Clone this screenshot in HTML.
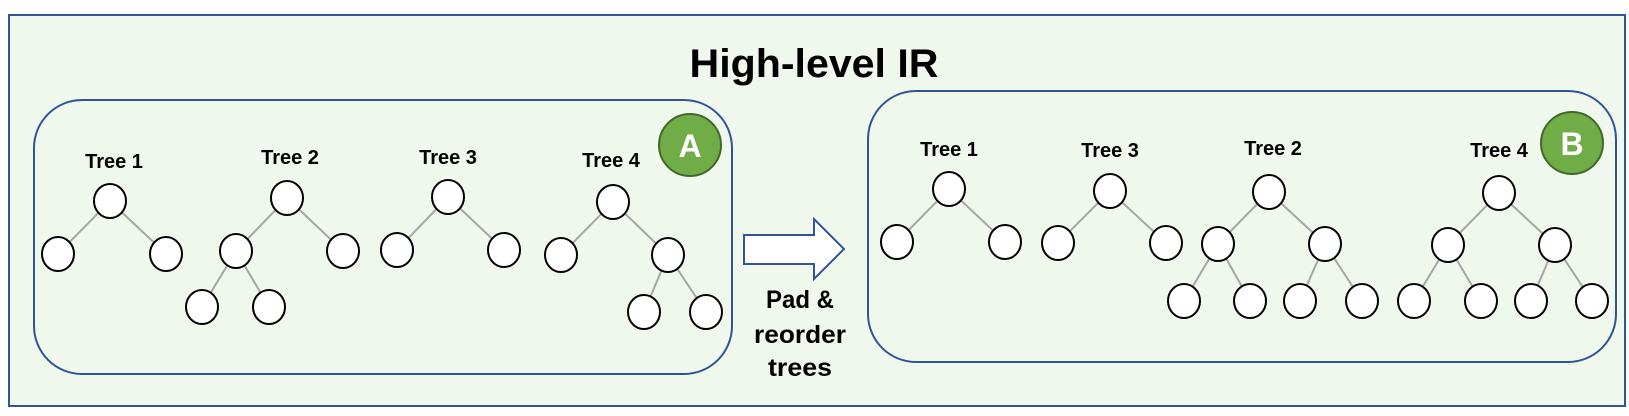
<!DOCTYPE html>
<html><head><meta charset="utf-8">
<style>
html,body{margin:0;padding:0;background:#fff;width:1629px;height:416px;overflow:hidden}
svg{display:block}
text{font-family:"Liberation Sans",sans-serif;font-weight:bold}
</style></head>
<body>
<svg id="d" width="1629" height="416" viewBox="0 0 1629 416" xmlns="http://www.w3.org/2000/svg">
  <rect x="9" y="15" width="1616" height="391" fill="#f0f7ec" stroke="#2f5597" stroke-width="2"/>
  <text x="814" y="77" font-size="40" text-anchor="middle" textLength="249" lengthAdjust="spacingAndGlyphs">High-level IR</text>
  <rect x="34" y="100" width="698" height="274" rx="48" fill="none" stroke="#2f5597" stroke-width="2"/>
  <rect x="868" y="91" width="748" height="271" rx="48" fill="none" stroke="#2f5597" stroke-width="2"/>
  <path d="M744,235 L814,235 L814,219 L844,249 L814,279 L814,264 L744,264 Z" fill="#ffffff" stroke="#2f5597" stroke-width="2"/>
  <g font-size="25" text-anchor="middle">
    <text x="800" y="308" textLength="68" lengthAdjust="spacingAndGlyphs">Pad &amp;</text>
    <text x="800" y="343" textLength="92" lengthAdjust="spacingAndGlyphs">reorder</text>
    <text x="800" y="376" textLength="64" lengthAdjust="spacingAndGlyphs">trees</text>
  </g>
  <g>
    <circle cx="690" cy="145" r="31" fill="#70ad47" stroke="#41682b" stroke-width="2"/>
    <text x="690" y="157" font-size="32" fill="#fff" text-anchor="middle">A</text>
  </g>
  <g>
    <circle cx="1572" cy="143" r="31" fill="#70ad47" stroke="#41682b" stroke-width="2"/>
    <text x="1572" y="155" font-size="32" fill="#fff" text-anchor="middle">B</text>
  </g>
  <g id="trees"></g>
</svg>
<script>
// Tree definitions: label, label position, nodes [x,y], edges [parent,child]
const treeLabels = ["Tree 1","Tree 2","Tree 3","Tree 4","Tree 1","Tree 3","Tree 2","Tree 4"];
const labelPos = [[114,161],[290,157],[448,157],[611,160],[949,149],[1110,150],[1273,148],[1499,150]];
const treeNodes = [
  [[110,201],[58,254],[166,254]],
  [[287,198],[236,251],[343,251],[202,307],[269,307]],
  [[448,197],[397,250],[504,250]],
  [[613,202],[561,255],[668,255],[644,312],[706,312]],
  [[949,189],[897,242],[1005,242]],
  [[1110,191],[1058,243],[1166,243]],
  [[1269,192],[1218,244],[1325,244],[1184,301],[1250,301],[1300,301],[1362,301]],
  [[1499,193],[1448,245],[1555,245],[1414,301],[1481,301],[1531,301],[1592,301]]
];
const treeEdges = [
  [[0,1],[0,2]],
  [[0,1],[0,2],[1,3],[1,4]],
  [[0,1],[0,2]],
  [[0,1],[0,2],[2,3],[2,4]],
  [[0,1],[0,2]],
  [[0,1],[0,2]],
  [[0,1],[0,2],[1,3],[1,4],[2,5],[2,6]],
  [[0,1],[0,2],[1,3],[1,4],[2,5],[2,6]]
];
const NS="http://www.w3.org/2000/svg";
const root=document.getElementById('trees');
const R=16.5;
treeNodes.forEach((nodes,t)=>{
  const g=document.createElementNS(NS,'g');
  
  
  const lab=document.createElementNS(NS,'text');
  lab.setAttribute('x',labelPos[t][0]);lab.setAttribute('y',labelPos[t][1]+7);
  lab.setAttribute('font-size','20');lab.setAttribute('text-anchor','middle');
  lab.textContent=treeLabels[t];
  
  
  g.appendChild(lab);
  treeEdges[t].forEach(([a,b])=>{
    const [x1,y1]=nodes[a],[x2,y2]=nodes[b];
    const dx=x2-x1,dy=y2-y1,L=Math.hypot(dx,dy);
    const l=document.createElementNS(NS,'line');
    l.setAttribute('x1',x1+dx/L*R);l.setAttribute('y1',y1+dy/L*R);
    l.setAttribute('x2',x2-dx/L*R);l.setAttribute('y2',y2-dy/L*R);
    l.setAttribute('stroke','#a6a6a6');l.setAttribute('stroke-width','2');
    
    
    g.appendChild(l);
  });
  nodes.forEach(([x,y])=>{
    const c=document.createElementNS(NS,'ellipse');
    c.setAttribute('cx',x);c.setAttribute('cy',y);c.setAttribute('rx',16);c.setAttribute('ry',17);
    c.setAttribute('fill','#fff');c.setAttribute('stroke','#000');c.setAttribute('stroke-width','2');
    
    
    g.appendChild(c);
  });
  root.appendChild(g);
});
</script>
</body></html>
